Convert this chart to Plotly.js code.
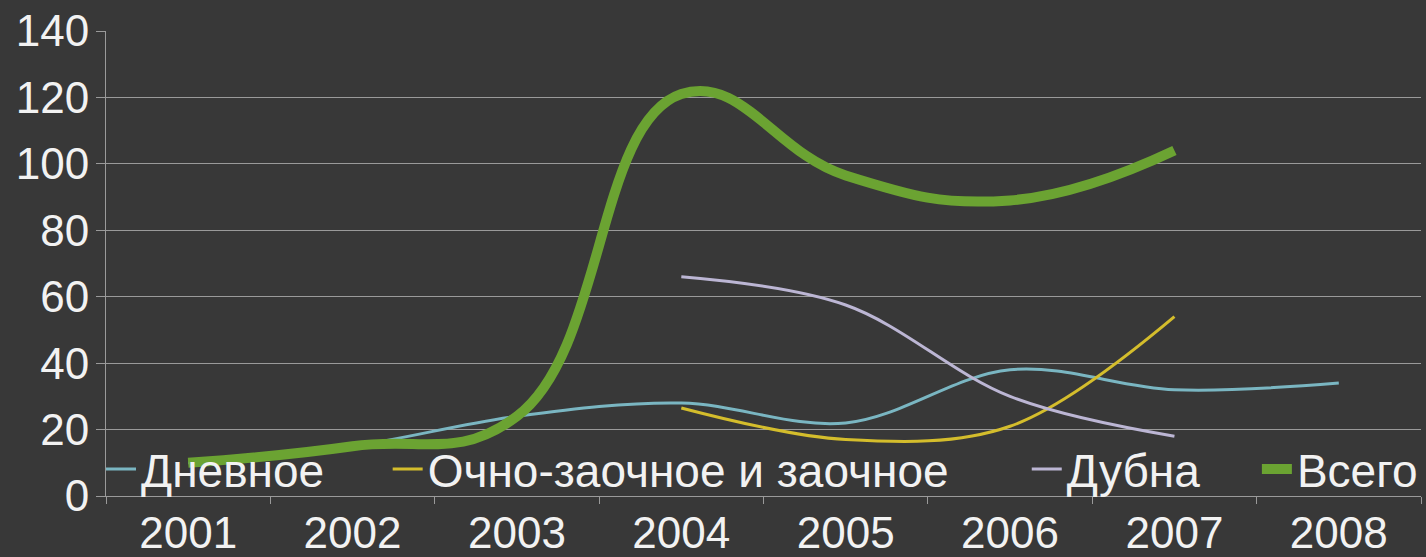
<!DOCTYPE html>
<html>
<head>
<meta charset="utf-8">
<script src="https://cdn.plot.ly/plotly-3.0.1.min.js"></script>
<style>html,body{margin:0;padding:0;background:#383838;}#chart{width:1426px;height:557px;}</style>
</head>
<body>
<div id="chart"></div>
<script>
const years = ["2001","2002","2003","2004","2005","2006","2007","2008"];
const yTicks = [0,20,40,60,80,100,120,140];
const dnevnoe = [10, 15, 24, 28, 22, 38, 32, 34];
const ochnoZaochnoe = [null, null, null, 26.5, 17, 21, 54, null];
const dubna = [null, null, null, 66, 57.5, 30, 18, null];
const vsego = [10, 15, 24, 121, 96.5, 89, 104, null];

const names = ["Дневное", "Очно-заочное и заочное", "Дубна", "Всего"];
const colors = ["#7ab6c2", "#d4bd2c", "#bcb6d4", "#6ba332"];
const widths = [3, 3, 3, 10];
const smooth = [1, 1, 1, 1.25];
const series = [dnevnoe, ochnoZaochnoe, dubna, vsego];
const legendIds = ["legend", "legend2", "legend3", "legend4"];

const traces = series.map((s, i) => ({
  type: "scatter", mode: "lines", x: years, y: s, name: names[i],
  line: {color: colors[i], width: widths[i], shape: "spline", smoothing: smooth[i]},
  connectgaps: false, legend: legendIds[i], showlegend: true
}));

const legendFont = {family: "Liberation Sans, Arial, sans-serif", size: 46, color: "#f2f2f2"};
function leg(x) {
  return {x: x, y: 0.058, xanchor: "left", yanchor: "middle", orientation: "h",
          bgcolor: "rgba(0,0,0,0)", borderwidth: 0, font: legendFont};
}

const layout = {
  width: 1426, height: 557,
  paper_bgcolor: "#383838", plot_bgcolor: "#383838",
  margin: {l: 106, r: 3, t: 31, b: 61},
  font: {family: "Liberation Sans, Arial, sans-serif", color: "#f2f2f2", size: 44},
  xaxis: {type: "category", categoryorder: "array", categoryarray: years,
          range: [-0.5, 7.5], tickson: "boundaries", ticks: "outside", ticklen: 7,
          tickcolor: "#9a9a9a", showline: true, linecolor: "#9a9a9a", linewidth: 1,
          showgrid: false, zeroline: false, ticklabelstandoff: -2,
          tickfont: {size: 44, color: "#f2f2f2"}},
  yaxis: {range: [0, 140], tickvals: yTicks, ticktext: yTicks.map(String),
          ticks: "outside", ticklen: 9, tickcolor: "#9a9a9a", showline: true,
          linecolor: "#9a9a9a", linewidth: 1, gridcolor: "#9a9a9a", gridwidth: 1,
          zeroline: false, ticklabelstandoff: -2, tickfont: {size: 44, color: "#f2f2f2"}},
  legend: leg(-0.0038), legend2: leg(0.2142), legend3: leg(0.7002), legend4: leg(0.8752),
  showlegend: true
};

Plotly.newPlot("chart", traces, layout, {displayModeBar: false, staticPlot: true});
</script>
</body>
</html>
